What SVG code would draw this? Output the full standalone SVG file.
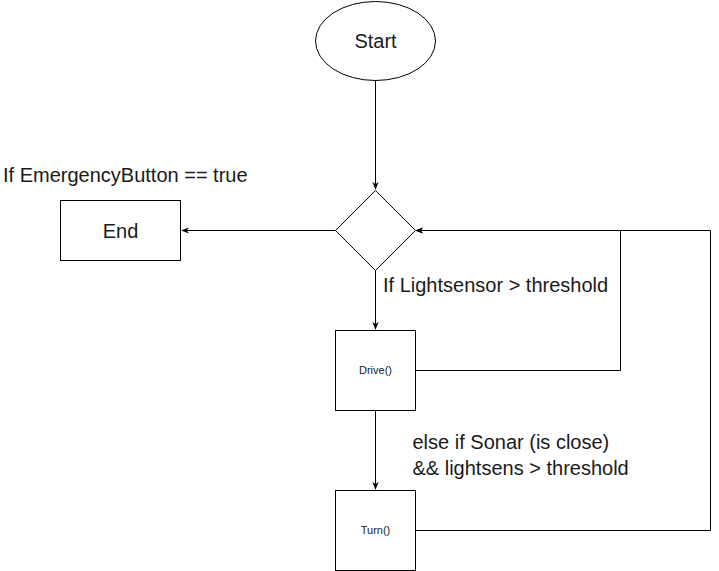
<svg xmlns="http://www.w3.org/2000/svg" width="719" height="571" viewBox="0 0 719 571">
<style>
.s{fill:#fff;stroke:#000;stroke-width:1}
.c{fill:none;stroke:#000;stroke-width:1}
text{font-family:"Liberation Sans",Arial,sans-serif;fill:#1a1a1a}
.b{font-size:20px}
.m{font-size:20px;text-anchor:middle}
.sm{font-size:11px;text-anchor:middle}
</style>
<defs>
<marker id="a" viewBox="0 0 10 10" refX="9" refY="5" markerWidth="8" markerHeight="8" markerUnits="userSpaceOnUse" orient="auto">
<path d="M0,1 L10,5 L0,9 L3,5 Z" fill="#000"/>
</marker>
</defs>
<rect width="719" height="571" fill="#fff"/>
<g id="connectors">
<path class="c" d="M375.5,80 V189" marker-end="url(#a)"/>
<path class="c" d="M335,230.5 H182" marker-end="url(#a)"/>
<path class="c" d="M375.5,270 V329" marker-end="url(#a)"/>
<path class="c" d="M375.5,410 V489" marker-end="url(#a)"/>
<path class="c" d="M415,370.5 H620.5 V230.5 H416" marker-end="url(#a)"/>
<path class="c" d="M415,530.5 H710.5 V230.5 H416" marker-end="url(#a)"/>
</g>
<g id="start">
<ellipse class="s" cx="375.5" cy="41" rx="60" ry="39.5"/>
<text class="m" x="375.5" y="48">Start</text>
</g>
<g id="decision">
<path class="s" d="M375.5,190.5 L415.5,230.5 L375.5,270.5 L335.5,230.5 Z"/>
</g>
<g id="end">
<rect class="s" x="60.5" y="200.5" width="120" height="60"/>
<text class="m" x="120.5" y="237.5">End</text>
</g>
<g id="drive">
<rect class="s" x="335.5" y="330.5" width="80" height="80"/>
<text class="sm" x="375.5" y="374">Drive()</text>
</g>
<g id="turn">
<rect class="s" x="335.5" y="490.5" width="80" height="80"/>
<text class="sm" x="375.5" y="534">Turn()</text>
</g>
<g id="labels">
<text class="b" x="3" y="181.5">If EmergencyButton == true</text>
<text class="b" x="383" y="291.5">If Lightsensor &gt; threshold</text>
<text class="b" x="412.5" y="449">else if Sonar (is close)</text>
<text class="b" x="412.5" y="474.5">&amp;&amp; lightsens &gt; threshold</text>
</g>
</svg>
